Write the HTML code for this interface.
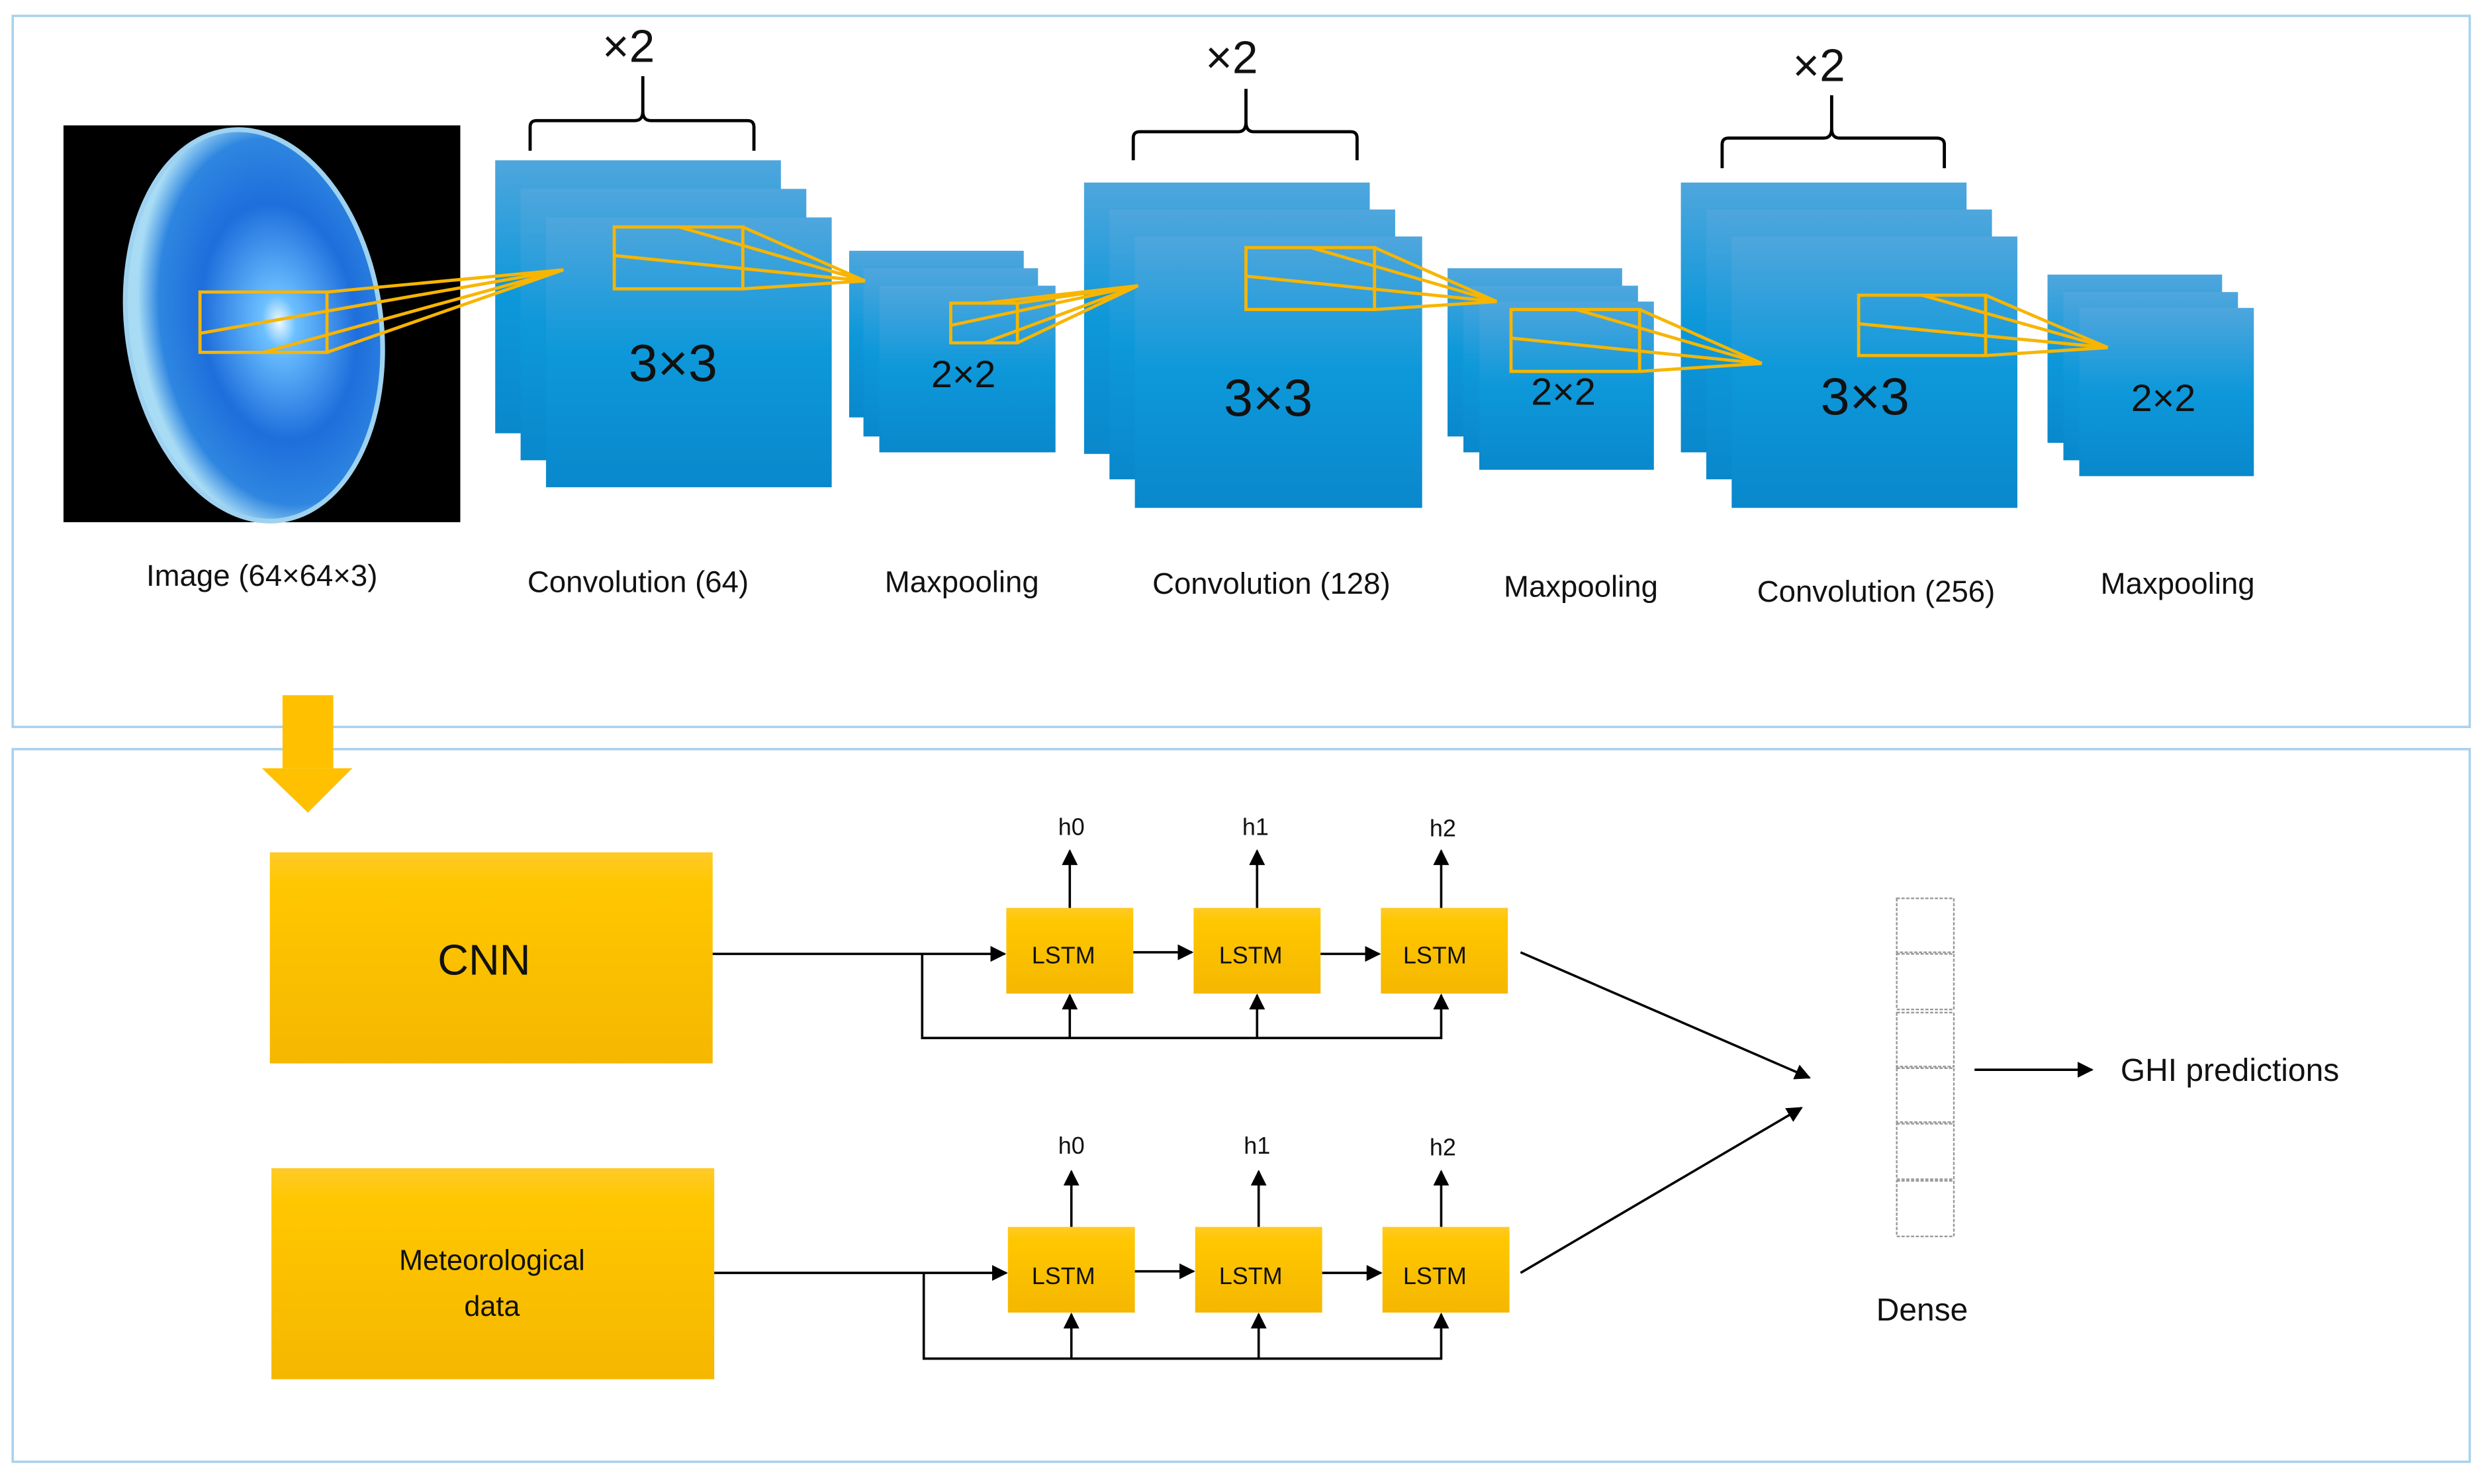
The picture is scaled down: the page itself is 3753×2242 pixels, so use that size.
<!DOCTYPE html>
<html><head><meta charset="utf-8"><style>
html,body{margin:0;padding:0;background:#fff;}
svg{display:block;}
text{font-family:"Liberation Sans",sans-serif;fill:#111;}
</style></head><body>
<svg width="3753" height="2242" viewBox="0 0 1565 935" preserveAspectRatio="none" xmlns="http://www.w3.org/2000/svg">
<defs>
<linearGradient id="bl" x1="0" y1="0" x2="0" y2="1"><stop offset="0" stop-color="#4fa6dd"/><stop offset="0.5" stop-color="#0d98da"/><stop offset="1" stop-color="#0a88cc"/></linearGradient>
<linearGradient id="yl" x1="0" y1="0" x2="0" y2="1"><stop offset="0" stop-color="#ffca28"/><stop offset="0.15" stop-color="#ffc700"/><stop offset="1" stop-color="#f5b700"/></linearGradient>
<radialGradient id="eye" cx="0.6" cy="0.5" r="0.55"><stop offset="0" stop-color="#f0fbff"/><stop offset="0.12" stop-color="#6cc0ff"/><stop offset="0.55" stop-color="#1e6edc"/><stop offset="0.85" stop-color="#2f86e0"/><stop offset="1" stop-color="#a8dcf5"/></radialGradient>
<marker id="ar" markerWidth="10" markerHeight="10" refX="9" refY="5" orient="auto" markerUnits="userSpaceOnUse"><path d="M0,0 L10,5 L0,10 z" fill="#000"/></marker>
</defs>
<rect x="8" y="10" width="1548" height="448" fill="none" stroke="#a9d2ee" stroke-width="1.5"/>
<rect x="8" y="472" width="1548" height="449" fill="none" stroke="#a9d2ee" stroke-width="1.5"/>

<rect x="40" y="79" width="250" height="250" fill="#000"/>
<ellipse cx="160" cy="205" rx="80" ry="124" fill="url(#eye)" stroke="#9fd2f0" stroke-width="3" transform="rotate(-8 160 205)"/>

<g fill="url(#bl)">
<rect x="312" y="101" width="180" height="172"/><rect x="328" y="119" width="180" height="171"/><rect x="344" y="137" width="180" height="170"/>
<rect x="535" y="158" width="110" height="105"/><rect x="544" y="169" width="110" height="106"/><rect x="554" y="180" width="111" height="105"/>
<rect x="683" y="115" width="180" height="171"/><rect x="699" y="132" width="180" height="170"/><rect x="715" y="149" width="181" height="171"/>
<rect x="912" y="169" width="110" height="106"/><rect x="922" y="180" width="110" height="105"/><rect x="932" y="190" width="110" height="106"/>
<rect x="1059" y="115" width="180" height="170"/><rect x="1075" y="132" width="180" height="170"/><rect x="1091" y="149" width="180" height="171"/>
<rect x="1290" y="173" width="110" height="106"/><rect x="1300" y="184" width="110" height="106"/><rect x="1310" y="194" width="110" height="106"/>
</g>
<g fill="none" stroke="#f7b500" stroke-width="2">
<rect x="126" y="184" width="80" height="38"/>
<path d="M126,210 L355,170 M206,184 L355,170 M206,222 L355,170 M166,222 L355,170"/>
<rect x="387" y="143" width="81" height="39"/>
<path d="M387,161 L545,177 M428,143 L545,177 M468,143 L545,177 M468,182 L545,177"/>
<rect x="599" y="191" width="42" height="25"/>
<path d="M599,205 L717,180 M620,191 L717,180 M641,191 L717,180 M641,216 L717,180 M620,216 L717,180"/>
<rect x="785" y="156" width="81" height="39"/>
<path d="M785,174 L943,190 M826,156 L943,190 M866,156 L943,190 M866,195 L943,190"/>
<rect x="952" y="195" width="81" height="39"/>
<path d="M952,213 L1110,229 M993,195 L1110,229 M1033,195 L1110,229 M1033,234 L1110,229"/>
<rect x="1171" y="186" width="80" height="38"/>
<path d="M1171,204 L1328,219 M1211,186 L1328,219 M1251,186 L1328,219 M1251,224 L1328,219"/>
</g>
<g font-size="33" text-anchor="middle">
<text x="424" y="240">3×3</text><text x="799" y="262">3×3</text><text x="1175" y="261">3×3</text>
</g>
<g font-size="24" text-anchor="middle">
<text x="607" y="244">2×2</text><text x="985" y="255">2×2</text><text x="1363" y="259">2×2</text>
</g>
<g fill="none" stroke="#000" stroke-width="2">
<path d="M334,95 V80 Q334,76 338,76 H400 Q405,76 405,70 V48 M405,70 Q405,76 410,76 H471 Q475,76 475,80 V95"/>
<path d="M714,101 V87 Q714,83 718,83 H780 Q785,83 785,77 V56 M785,77 Q785,83 790,83 H851 Q855,83 855,87 V101"/>
<path d="M1085,106 V91 Q1085,87 1089,87 H1149 Q1154,87 1154,81 V60 M1154,81 Q1154,87 1159,87 H1220 Q1225,87 1225,91 V106"/>
</g>
<g font-size="29" text-anchor="middle">
<text x="396" y="39">×2</text><text x="776" y="46">×2</text><text x="1146" y="51">×2</text>
</g>
<g font-size="19" text-anchor="middle">
<text x="165" y="369">Image (64×64×3)</text>
<text x="402" y="373">Convolution (64)</text>
<text x="606" y="373">Maxpooling</text>
<text x="801" y="374">Convolution (128)</text>
<text x="996" y="376">Maxpooling</text>
<text x="1182" y="379">Convolution (256)</text>
<text x="1372" y="374">Maxpooling</text>
</g>

<rect x="178" y="438" width="32" height="46" fill="#ffc000"/>
<path d="M165,484 L222,484 L194,512 z" fill="#ffc000"/>

<rect x="170" y="537" width="279" height="133" fill="url(#yl)"/>
<rect x="171" y="736" width="279" height="133" fill="url(#yl)"/>
<text x="305" y="614" font-size="27" text-anchor="middle">CNN</text>
<text x="310" y="800" font-size="18" text-anchor="middle">Meteorological</text>
<text x="310" y="829" font-size="18" text-anchor="middle">data</text>

<g fill="url(#yl)">
<rect x="634" y="572" width="80" height="54"/><rect x="752" y="572" width="80" height="54"/><rect x="870" y="572" width="80" height="54"/>
<rect x="635" y="773" width="80" height="54"/><rect x="753" y="773" width="80" height="54"/><rect x="871" y="773" width="80" height="54"/>
</g>
<g font-size="15" text-anchor="middle">
<text x="670" y="607">LSTM</text><text x="788" y="607">LSTM</text><text x="904" y="607">LSTM</text>
<text x="670" y="809">LSTM</text><text x="788" y="809">LSTM</text><text x="904" y="809">LSTM</text>
</g>
<g font-size="15" text-anchor="middle">
<text x="675" y="526">h0</text><text x="791" y="526">h1</text><text x="909" y="527">h2</text>
<text x="675" y="727">h0</text><text x="792" y="727">h1</text><text x="909" y="728">h2</text>
</g>
<g fill="none" stroke="#000" stroke-width="1.5" marker-end="url(#ar)">
<path d="M449,601 H633"/><path d="M714,600 H751"/><path d="M832,601 H869"/>
<path d="M581,601 V654 H908 V627"/><path d="M674,654 V627"/><path d="M792,654 V627"/>
<path d="M674,572 V536"/><path d="M792,572 V536"/><path d="M908,572 V536"/>
<path d="M450,802 H634"/><path d="M715,801 H752"/><path d="M833,802 H870"/>
<path d="M582,802 V856 H908 V828"/><path d="M675,856 V828"/><path d="M793,856 V828"/>
<path d="M675,773 V738"/><path d="M793,773 V738"/><path d="M908,773 V738"/>
<path d="M958,600 L1140,679"/><path d="M958,802 L1135,698"/>
<path d="M1244,674 H1318"/>
</g>
<g fill="#fff" stroke="#999" stroke-width="1" stroke-dasharray="2,1">
<rect x="1195" y="566" width="36" height="34"/><rect x="1195" y="601" width="36" height="35"/>
<rect x="1195" y="638" width="36" height="34"/><rect x="1195" y="673" width="36" height="34"/>
<rect x="1195" y="708" width="36" height="35"/><rect x="1195" y="744" width="36" height="35"/>
</g>
<text x="1336" y="681" font-size="20">GHI predictions</text>
<text x="1211" y="832" font-size="20" text-anchor="middle">Dense</text>
</svg>
</body></html>
